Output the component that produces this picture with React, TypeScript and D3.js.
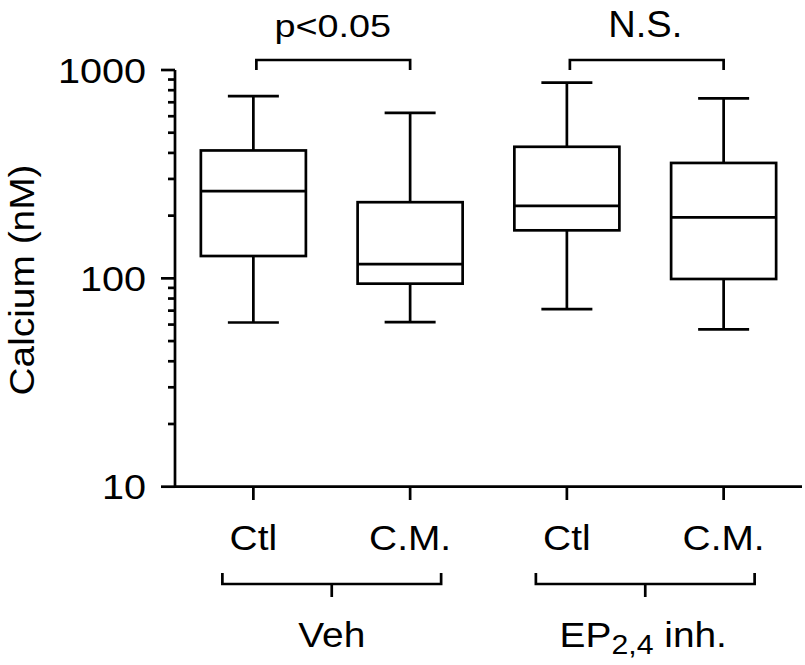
import React from 'react'
import * as d3 from 'd3'

const groupIds = ['veh-ctl', 'veh-cm', 'ep-ctl', 'ep-cm']
const catLabels = ['Ctl', 'C.M.', 'Ctl', 'C.M.']
const whiskerHigh = [750, 623, 869, 731]
const q3 = [411, 232, 428, 358]
const median = [262, 117, 223, 196]
const q1 = [128, 94.3, 170, 99.3]
const whiskerLow = [61.4, 61.6, 71.2, 56.9]

const majorTicks = [10, 100, 1000]
const treatments = [
  { label: 'Veh', members: [0, 1] },
  { label: 'EP', sub: '2,4', after: ' inh.', members: [2, 3] },
]
const comparisons = [
  { a: 0, b: 1, label: 'p<0.05' },
  { a: 2, b: 3, label: 'N.S.' },
]

const W = 805
const H = 665
const font = '"Liberation Sans", Arial, Helvetica, sans-serif'
const sw = 2.7

const App = () => {
  const x = d3.scaleBand().domain(groupIds).range([175, 802]).padding(0)
  const y = d3.scaleLog().domain([10, 1000]).range([486.7, 70])
  const cx = (i: number) => (x(groupIds[i]) as number) + x.bandwidth() / 2
  const boxW = x.bandwidth() * 0.67
  const capW = 51
  const minor = y.ticks().filter(t => !majorTicks.includes(t))

  const txt = (
    key: string, tx: number, ty: number, s: string, size = 36, sx = 1.08,
    anchor: string = 'middle', rotate = 0
  ) => (
    <text key={key} transform={`translate(${tx},${ty}) rotate(${rotate}) scale(${sx},1)`}
      textAnchor={anchor} fontSize={size} fontFamily={font} fill="#000">{s}</text>
  )

  return (
    <svg width={W} height={H} style={{ position: 'absolute', left: 0, top: 0, background: '#fff' }}>
      <g stroke="#000" strokeWidth={sw} fill="none" strokeLinecap="butt">
        {/* axes */}
        <line x1={175} x2={175} y1={y(1000)} y2={y(10) + sw / 2} />
        <line x1={175} x2={802} y1={y(10)} y2={y(10)} />
        {majorTicks.map(t => <line key={'M' + t} x1={161} x2={175} y1={y(t)} y2={y(t)} />)}
        {minor.map(t => <line key={'m' + t} x1={168} x2={175} y1={y(t)} y2={y(t)} />)}
        {groupIds.map((g, i) => <line key={'xt' + g} x1={cx(i)} x2={cx(i)} y1={y(10)} y2={500} />)}

        {/* boxes */}
        {groupIds.map((g, i) => (
          <g key={g}>
            <line x1={cx(i)} x2={cx(i)} y1={y(whiskerHigh[i])} y2={y(q3[i])} />
            <line x1={cx(i)} x2={cx(i)} y1={y(q1[i])} y2={y(whiskerLow[i])} />
            <line x1={cx(i) - capW / 2} x2={cx(i) + capW / 2} y1={y(whiskerHigh[i])} y2={y(whiskerHigh[i])} />
            <line x1={cx(i) - capW / 2} x2={cx(i) + capW / 2} y1={y(whiskerLow[i])} y2={y(whiskerLow[i])} />
            <rect x={cx(i) - boxW / 2} y={y(q3[i])} width={boxW} height={y(q1[i]) - y(q3[i])} />
            <line x1={cx(i) - boxW / 2} x2={cx(i) + boxW / 2} y1={y(median[i])} y2={y(median[i])} />
          </g>
        ))}

        {/* significance brackets */}
        {comparisons.map(c => (
          <path key={c.label} d={`M${cx(c.a) + 3},70V60H${cx(c.b)}V70`} />
        ))}

        {/* treatment brackets */}
        {treatments.map(t => {
          const l = cx(t.members[0]) - 31
          const r = cx(t.members[1]) + 31
          const m = (cx(t.members[0]) + cx(t.members[1])) / 2
          return (
            <g key={t.label}>
              <path d={`M${l},573V584H${r}V573`} />
              <line x1={m} x2={m} y1={584} y2={597} />
            </g>
          )
        })}
      </g>

      {/* y tick labels */}
      {majorTicks.map(t => txt('yl' + t, 146, y(t) + 12.5, String(t), 36, 1.1, 'end'))}
      {/* y axis title */}
      {txt('ytitle', 34, 280, 'Calcium (nM)', 36, 1.08, 'middle', -90)}
      {/* category labels */}
      {catLabels.map((c, i) => txt('cat' + i, cx(i), 550, c))}
      {/* comparison labels */}
      {comparisons.map(c => {
        const m = (cx(c.a) + cx(c.b)) / 2
        return c.label === 'p<0.05'
          ? txt('cmp' + c.label, m + 1, 36.5, c.label, 31, 1.22)
          : txt('cmp' + c.label, m, 36.5, c.label, 37, 1.03)
      })}
      {/* treatment labels */}
      {treatments.map(t => {
        const m = (cx(t.members[0]) + cx(t.members[1])) / 2
        if (!t.sub) return txt('tr' + t.label, m, 646.7, t.label)
        return (
          <text key={'tr' + t.label} transform={`translate(${m - 2},646.7) scale(1.08,1)`}
            textAnchor="middle" fontSize={36} fontFamily={font} fill="#000">
            {t.label}
            <tspan fontSize={28} dy={7}>{t.sub}</tspan>
            <tspan dy={-7}>{t.after}</tspan>
          </text>
        )
      })}
    </svg>
  )
}

export default App
